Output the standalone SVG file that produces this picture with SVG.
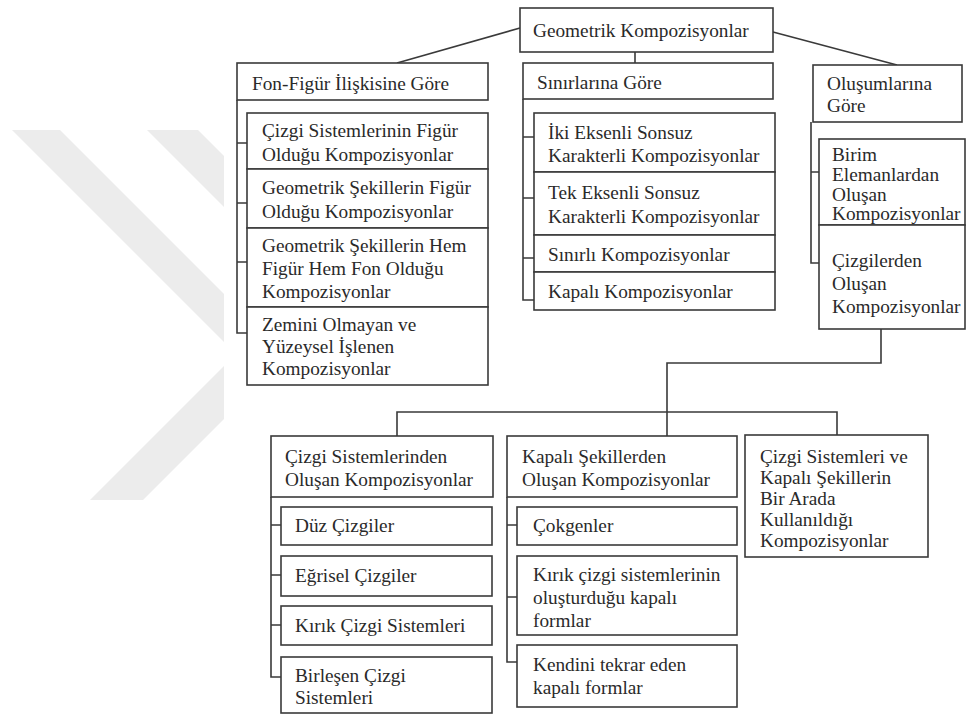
<svg xmlns="http://www.w3.org/2000/svg" width="968" height="716" viewBox="0 0 968 716">
<style>
.bx{fill:#fff;stroke:#3a3a3a;stroke-width:1.6}
.ln{fill:none;stroke:#3a3a3a;stroke-width:1.6}
text{font-family:"Liberation Serif","Times New Roman",serif;font-size:19.3px;fill:#2a2a2a}
.wm{fill:#ececec}
</style>
<rect width="968" height="716" fill="#fff"/>
<g id="watermark">
<polygon class="wm" points="12,130 60,130 224,294 224,342"/>
<polygon class="wm" points="147,130 198,130 224,156 224,207"/>
<polygon class="wm" points="90,500 143,500 224,419 224,366"/>
</g>
<g id="connectors">
<path class="ln" d="M520,28 L397,63"/>
<path class="ln" d="M635,52 L635,63"/>
<path class="ln" d="M773,32 L897,65"/>
<path class="ln" d="M237,100 V333 H247 M237,143 H247 M237,203 H247 M237,262 H247"/>
<path class="ln" d="M523,99 V300 H534 M523,137 H534 M523,198 H534 M523,258 H534"/>
<path class="ln" d="M811,122 V263 H819 M811,172 H819"/>
<path class="ln" d="M881,329 V363 H667 V436"/>
<path class="ln" d="M397,436 V412 H837 V435"/>
<path class="ln" d="M271,497 V677 H281 M271,525 H281 M271,575 H281 M271,625 H281"/>
<path class="ln" d="M507,497 V662 H517 M507,525 H517 M507,597 H517"/>
</g>
<g id="root"><rect class="bx" x="520" y="8" width="253" height="44"/><text x="533" y="37">Geometrik Kompozisyonlar</text></g>
<g id="fon-figur"><rect class="bx" x="237" y="63" width="251" height="37"/><text x="252" y="90">Fon-Figür İlişkisine Göre</text></g>
<g id="sinirlarina"><rect class="bx" x="523" y="63" width="250" height="36"/><text x="537" y="89">Sınırlarına Göre</text></g>
<g id="olusumlarina"><rect class="bx" x="813" y="65" width="149" height="57"/><text x="827" y="90">Oluşumlarına</text><text x="827" y="112">Göre</text></g>

<g id="ff1"><rect class="bx" x="247" y="113" width="241" height="56"/><text x="262" y="137">Çizgi Sistemlerinin Figür</text><text x="262" y="161">Olduğu Kompozisyonlar</text></g>
<g id="ff2"><rect class="bx" x="247" y="169" width="241" height="59"/><text x="262" y="194">Geometrik Şekillerin Figür</text><text x="262" y="218">Olduğu Kompozisyonlar</text></g>
<g id="ff3"><rect class="bx" x="247" y="228" width="241" height="79"/><text x="262" y="252">Geometrik Şekillerin Hem</text><text x="262" y="275">Figür Hem Fon Olduğu</text><text x="262" y="298">Kompozisyonlar</text></g>
<g id="ff4"><rect class="bx" x="247" y="307" width="241" height="78"/><text x="262" y="331">Zemini Olmayan ve</text><text x="262" y="353">Yüzeysel İşlenen</text><text x="262" y="375">Kompozisyonlar</text></g>

<g id="s1"><rect class="bx" x="534" y="113" width="241" height="59"/><text x="548" y="139">İki Eksenli Sonsuz</text><text x="548" y="162">Karakterli Kompozisyonlar</text></g>
<g id="s2"><rect class="bx" x="534" y="172" width="241" height="63"/><text x="548" y="199">Tek Eksenli Sonsuz</text><text x="548" y="223">Karakterli Kompozisyonlar</text></g>
<g id="s3"><rect class="bx" x="534" y="235" width="241" height="37"/><text x="548" y="261">Sınırlı Kompozisyonlar</text></g>
<g id="s4"><rect class="bx" x="534" y="272" width="241" height="38"/><text x="548" y="298">Kapalı Kompozisyonlar</text></g>

<g id="o1"><rect class="bx" x="819" y="139" width="146" height="86"/><text x="832" y="161">Birim</text><text x="832" y="181">Elemanlardan</text><text x="832" y="201">Oluşan</text><text x="832" y="220">Kompozisyonlar</text></g>
<g id="o2"><rect class="bx" x="819" y="225" width="146" height="104"/><text x="832" y="267">Çizgilerden</text><text x="832" y="290">Oluşan</text><text x="832" y="313">Kompozisyonlar</text></g>

<g id="cizgi-sis"><rect class="bx" x="271" y="436" width="222" height="61"/><text x="285" y="463">Çizgi Sistemlerinden</text><text x="285" y="486">Oluşan Kompozisyonlar</text></g>
<g id="kapali-sek"><rect class="bx" x="507" y="436" width="230" height="61"/><text x="522" y="463">Kapalı Şekillerden</text><text x="522" y="486">Oluşan Kompozisyonlar</text></g>
<g id="birarada"><rect class="bx" x="745" y="435" width="183" height="122"/><text x="760" y="463">Çizgi Sistemleri ve</text><text x="760" y="484">Kapalı Şekillerin</text><text x="760" y="505">Bir Arada</text><text x="760" y="526">Kullanıldığı</text><text x="760" y="547">Kompozisyonlar</text></g>

<g id="c1"><rect class="bx" x="281" y="507" width="211" height="38"/><text x="295" y="532">Düz Çizgiler</text></g>
<g id="c2"><rect class="bx" x="281" y="556" width="211" height="40"/><text x="295" y="582">Eğrisel Çizgiler</text></g>
<g id="c3"><rect class="bx" x="281" y="606" width="211" height="39"/><text x="295" y="632">Kırık Çizgi Sistemleri</text></g>
<g id="c4"><rect class="bx" x="281" y="657" width="211" height="56"/><text x="295" y="682">Birleşen Çizgi</text><text x="295" y="704">Sistemleri</text></g>

<g id="k1"><rect class="bx" x="517" y="507" width="220" height="38"/><text x="533" y="532">Çokgenler</text></g>
<g id="k2"><rect class="bx" x="517" y="556" width="220" height="79"/><text x="533" y="581">Kırık çizgi sistemlerinin</text><text x="533" y="604">oluşturduğu kapalı</text><text x="533" y="627">formlar</text></g>
<g id="k3"><rect class="bx" x="517" y="645" width="220" height="62"/><text x="533" y="671">Kendini tekrar eden</text><text x="533" y="694">kapalı formlar</text></g>
</svg>
